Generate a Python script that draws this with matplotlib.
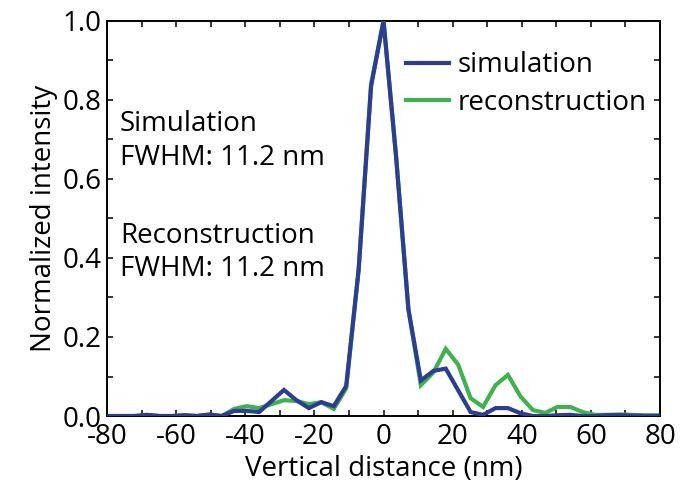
import numpy as np
import matplotlib
matplotlib.use('Agg')
import matplotlib.pyplot as plt
from matplotlib.ticker import MultipleLocator, FormatStrFormatter

plt.rcParams['font.family'] = ['Open Sans', 'DejaVu Sans']
plt.rcParams['axes.unicode_minus'] = False

# sample positions (nm), step ~3.6 nm
step = 3.6
idx = np.arange(-22, 23)
distance = idx * step

simulation = [0.0, 0.0, 0.0, 0.003, 0.0, 0.0, 0.002, 0.0, 0.004, 0.0,
              0.013, 0.013, 0.01, 0.038, 0.066, 0.04, 0.02, 0.035, 0.025, 0.076,
              0.37, 0.835, 1.0, 0.66, 0.27, 0.09, 0.114, 0.12, 0.065, 0.01,
              0.003, 0.02, 0.02, 0.007, 0.0, 0.0, 0.002, 0.003, 0.0, 0.0,
              0.002, 0.002, 0.001, 0.0, 0.0]

reconstruction = [0.0, 0.0, 0.0, 0.002, 0.0, 0.0, 0.002, 0.0, 0.003, 0.0,
                  0.018, 0.025, 0.02, 0.03, 0.04, 0.038, 0.03, 0.035, 0.018, 0.07,
                  0.37, 0.84, 1.0, 0.66, 0.27, 0.078, 0.11, 0.17, 0.13, 0.045,
                  0.023, 0.078, 0.104, 0.05, 0.015, 0.008, 0.023, 0.023, 0.01, 0.003,
                  0.003, 0.004, 0.003, 0.002, 0.002]

blue = '#2b3d98'
green = '#3cb44a'
fs = 20

fig = plt.figure(figsize=(6.97, 4.86), dpi=100)
ax = fig.add_axes([0.1535, 0.144, 0.7935, 0.813])

ax.plot(distance, reconstruction, color=green, lw=3, label='reconstruction',
        solid_joinstyle='miter', zorder=3)
ax.plot(distance, simulation, color=blue, lw=3, label='simulation',
        solid_joinstyle='miter', zorder=4)

ax.set_xlim(-80, 80)
ax.set_ylim(0, 1.0)
ax.xaxis.set_major_locator(MultipleLocator(20))
ax.xaxis.set_minor_locator(MultipleLocator(10))
ax.yaxis.set_major_locator(MultipleLocator(0.2))
ax.yaxis.set_minor_locator(MultipleLocator(0.1))
ax.yaxis.set_major_formatter(FormatStrFormatter('%.1f'))
ax.tick_params(which='both', direction='in', top=True, right=True,
               length=4.5, width=1.1, labelsize=fs, pad=4)
ax.tick_params(axis='x', pad=5)
for s in ax.spines.values():
    s.set_linewidth(1.4)

ax.set_xlabel('Vertical distance (nm)', fontsize=fs, labelpad=3)
ax.set_ylabel('Normalized intensity', fontsize=fs, labelpad=3)

handles, labels = ax.get_legend_handles_labels()
ax.legend(handles[::-1], labels[::-1], loc='upper right', frameon=False,
          fontsize=fs, handlelength=1.55, handletextpad=0.3,
          bbox_to_anchor=(1.0, 0.958), borderaxespad=0.1, labelspacing=0.33)

ax.text(0.0235, 0.696, 'Simulation\nFWHM: 11.2 nm', transform=ax.transAxes,
        fontsize=fs, va='center', ha='left', linespacing=1.32)
ax.text(0.0235, 0.414, 'Reconstruction\nFWHM: 11.2 nm', transform=ax.transAxes,
        fontsize=fs, va='center', ha='left', linespacing=1.25)

fig.savefig('out.png', dpi=100)
